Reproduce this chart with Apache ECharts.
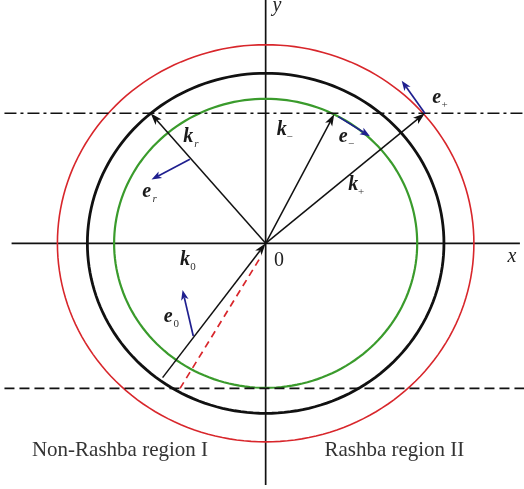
<!DOCTYPE html>
<html>
<head>
<meta charset="utf-8">
<script src="https://cdn.jsdelivr.net/npm/echarts@6/dist/echarts.min.js"></script>
<style>
  html, body { margin: 0; padding: 0; background: #fff; }
  #chart { width: 524px; height: 489px; }
</style>
</head>
<body>
<div id="chart"></div>
<script>
// Fermi circles: inner (k-), middle (k0 / kr), outer (k+)
const circleRadii = [0.85, 1.0, 1.168];
const circleNames = ['k-', 'k0', 'k+'];

// Horizontal reference lines (ky values)
const dashDotY = 0.765;
const dashedY = -0.853;

// Wave vectors: [tailX, tailY, headX, headY]
const kVectorNames = ['k_r', 'k_-', 'k_+', 'k_0'];
const kVectors = [
  [0, 0, -0.645, 0.765],
  [0, 0, 0.385, 0.76],
  [0, 0, 0.893, 0.765],
  [-0.578, -0.79, 0, 0]
];

// Spin / polarisation unit vectors
const eVectorNames = ['e_r', 'e_-', 'e_+', 'e_0'];
const eVectors = [
  [-0.425, 0.494, -0.64, 0.376],
  [0.407, 0.745, 0.585, 0.63],
  [0.893, 0.765, 0.763, 0.956],
  [-0.406, -0.545, -0.466, -0.275]
];

// Reflected wave (dashed red)
const reflectedVector = [-0.48, -0.853, -0.022, -0.07];

// Coordinate axes extents
const xAxisSpan = [-1.425, 1.426];
const yAxisSpan = [-1.422, 1.431];

// Vector labels
const labelMain = ['k', 'k', 'e', 'e', 'k', 'e', 'k', 'e'];
const labelSub = ['r', '\u2212', '\u2212', '+', '+', 'r', '0', '0'];
const labelX = [-0.434, 0.090, 0.435, 0.959, 0.491, -0.667, -0.453, -0.546];
const labelY = [0.627, 0.666, 0.627, 0.853, 0.343, 0.304, -0.098, -0.432];

// Axis labels and region captions
const axisLabelText = ['0', 'x', 'y'];
const axisLabelX = [0.075, 1.381, 0.063];
const axisLabelY = [-0.104, -0.081, 1.396];
const regionText = ['Non-Rashba region I', 'Rashba region II'];
const regionX = [-0.817, 0.722];
const regionY = [-1.219, -1.219];

const SERIF = '"Liberation Serif", "Times New Roman", serif';
const circleColors = ['#3a9b2c', '#111111', '#d8262b'];
const circleWidths = [2.2, 2.8, 1.6];
const NAVY = '#1f1f8f';

function arrowGroup(api, v, color, width, headLen, headHalf) {
  const p0 = api.coord([v[0], v[1]]);
  const p1 = api.coord([v[2], v[3]]);
  const dx = p1[0] - p0[0], dy = p1[1] - p0[1];
  const len = Math.sqrt(dx * dx + dy * dy);
  const ux = dx / len, uy = dy / len;
  const bx = p1[0] - ux * headLen, by = p1[1] - uy * headLen;
  const nx = p1[0] - ux * headLen * 0.75, ny = p1[1] - uy * headLen * 0.75;
  return {
    type: 'group',
    children: [
      {
        type: 'line',
        shape: { x1: p0[0], y1: p0[1], x2: nx, y2: ny },
        style: { stroke: color, lineWidth: width }
      },
      {
        type: 'polygon',
        shape: {
          points: [
            [p1[0], p1[1]],
            [bx - uy * headHalf, by + ux * headHalf],
            [nx, ny],
            [bx + uy * headHalf, by - ux * headHalf]
          ]
        },
        style: { fill: color }
      }
    ]
  };
}

const chart = echarts.init(document.getElementById('chart'), null, { renderer: 'canvas' });

const option = {
  animation: false,
  backgroundColor: '#ffffff',
  grid: { left: 0, right: 0, top: 0, bottom: 0, containLabel: false },
  xAxis: { type: 'value', min: -1.490, max: 1.449, show: false },
  yAxis: { type: 'value', min: -1.445, max: 1.431, show: false },
  series: [
    {
      // coordinate axes
      type: 'custom',
      clip: false,
      data: [[0]],
      renderItem: function (params, api) {
        const a = api.coord([xAxisSpan[0], 0]);
        const b = api.coord([xAxisSpan[1], 0]);
        const c = api.coord([0, yAxisSpan[1]]);
        const d = api.coord([0, yAxisSpan[0]]);
        return {
          type: 'group',
          children: [
            { type: 'line', shape: { x1: a[0], y1: a[1], x2: b[0], y2: b[1] }, style: { stroke: '#111', lineWidth: 1.7 } },
            { type: 'line', shape: { x1: c[0], y1: c[1], x2: d[0], y2: d[1] }, style: { stroke: '#111', lineWidth: 1.7 } }
          ]
        };
      }
    },
    {
      // Fermi circles
      type: 'custom',
      clip: false,
      data: circleRadii.map(function (r, i) { return [r, i]; }),
      renderItem: function (params, api) {
        const r = api.value(0);
        const i = api.value(1);
        const pts = [];
        for (let t = 0; t <= 360; t += 2) {
          const a = t * Math.PI / 180;
          pts.push(api.coord([r * Math.cos(a), r * Math.sin(a)]));
        }
        return {
          type: 'polyline',
          shape: { points: pts },
          style: { stroke: circleColors[i], lineWidth: circleWidths[i], fill: null }
        };
      }
    },
    {
      // horizontal dash-dot and dashed lines
      type: 'custom',
      clip: false,
      data: [[dashDotY, 0], [dashedY, 1]],
      renderItem: function (params, api) {
        const y = api.value(0);
        const kind = api.value(1);
        const a = api.coord([-1.465, y]);
        const b = api.coord([1.449, y]);
        return {
          type: 'line',
          shape: { x1: a[0], y1: a[1], x2: b[0], y2: b[1] },
          style: {
            stroke: '#111',
            lineWidth: 1.6,
            lineDash: kind === 0 ? [12, 4, 3, 4] : [10, 5]
          }
        };
      }
    },
    {
      // reflected wave direction
      type: 'custom',
      clip: false,
      data: [reflectedVector],
      renderItem: function (params, api) {
        const p0 = api.coord([api.value(0), api.value(1)]);
        const p1 = api.coord([api.value(2), api.value(3)]);
        return {
          type: 'line',
          shape: { x1: p0[0], y1: p0[1], x2: p1[0], y2: p1[1] },
          style: { stroke: '#d8262b', lineWidth: 1.7, lineDash: [7, 5] }
        };
      }
    },
    {
      // wave vectors
      type: 'custom',
      clip: false,
      data: kVectors,
      renderItem: function (params, api) {
        const v = [api.value(0), api.value(1), api.value(2), api.value(3)];
        return arrowGroup(api, v, '#111', 1.5, 12, 4);
      }
    },
    {
      // spin vectors
      type: 'custom',
      clip: false,
      data: eVectors,
      renderItem: function (params, api) {
        const v = [api.value(0), api.value(1), api.value(2), api.value(3)];
        return arrowGroup(api, v, NAVY, 1.7, 10, 3.8);
      }
    },
    {
      // vector labels
      type: 'custom',
      clip: false,
      data: labelX.map(function (x, i) { return [x, labelY[i], i]; }),
      renderItem: function (params, api) {
        const p = api.coord([api.value(0), api.value(1)]);
        const i = api.value(2);
        const sub = labelSub[i];
        const subItalic = sub === 'r';
        return {
          type: 'group',
          children: [
            {
              type: 'text',
              x: p[0], y: p[1],
              style: {
                text: labelMain[i], fill: '#1a1a1a',
                font: 'italic bold 20px ' + SERIF,
                align: 'center', verticalAlign: 'middle'
              }
            },
            {
              type: 'text',
              x: p[0] + 8, y: p[1] + 7,
              style: {
                text: sub, fill: '#333',
                font: (subItalic ? 'italic ' : '') + '11px ' + SERIF,
                align: 'center', verticalAlign: 'middle'
              }
            }
          ]
        };
      }
    },
    {
      // axis labels
      type: 'custom',
      clip: false,
      data: axisLabelX.map(function (x, i) { return [x, axisLabelY[i], i]; }),
      renderItem: function (params, api) {
        const p = api.coord([api.value(0), api.value(1)]);
        const i = api.value(2);
        return {
          type: 'text',
          x: p[0], y: p[1],
          style: {
            text: axisLabelText[i], fill: '#222',
            font: (i === 0 ? '' : 'italic ') + '20px ' + SERIF,
            align: 'center', verticalAlign: 'middle'
          }
        };
      }
    },
    {
      // region captions
      type: 'custom',
      clip: false,
      data: regionX.map(function (x, i) { return [x, regionY[i], i]; }),
      renderItem: function (params, api) {
        const p = api.coord([api.value(0), api.value(1)]);
        const i = api.value(2);
        return {
          type: 'text',
          x: p[0], y: p[1],
          style: {
            text: regionText[i], fill: '#333',
            font: '21px ' + SERIF,
            align: 'center', verticalAlign: 'middle'
          }
        };
      }
    }
  ]
};

chart.setOption(option);
</script>
</body>
</html>
